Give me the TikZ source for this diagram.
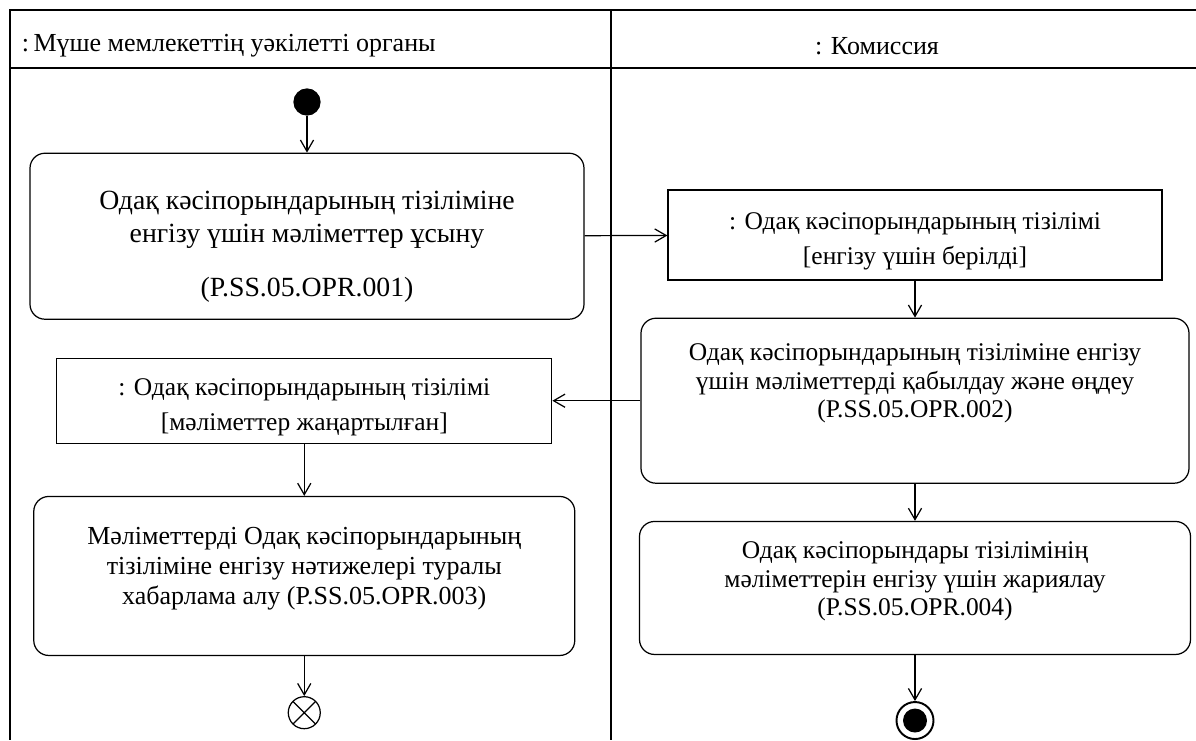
\documentclass[tikz,border=0pt]{standalone}
\usepackage{fontspec}
\setmainfont{Liberation Serif}
\usetikzlibrary{positioning,arrows.meta}
\usetikzlibrary{shapes.geometric}
\tikzstyle{act}=[draw, rounded corners=0.3cm, align=center, font=\fontsize{14.5}{16.2}\selectfont]
\tikzstyle{obj}=[draw, align=center, font=\fontsize{14.5}{19.8}\selectfont]
\tikzstyle{lane}=[font=\fontsize{14.8}{17}\selectfont]
\tikzstyle{startnode}=[draw, circle, fill=black, minimum size=0.52cm, inner sep=0pt]
\tikzstyle{flowend}=[draw, circle, minimum size=0.64cm, inner sep=0pt, path picture={\draw (path picture bounding box.north west) -- (path picture bounding box.south east) (path picture bounding box.north east) -- (path picture bounding box.south west);}]
\tikzstyle{actend}=[draw, circle, minimum size=0.74cm, inner sep=0pt, line width=1.1pt, path picture={\fill (path picture bounding box.center) circle (0.24cm);}]

\begin{document}
\begin{tikzpicture}[line width=0.7pt, >={Straight Barb[length=6.5pt,width=7.5pt]}]
	\useasboundingbox (0,0) rectangle (23.92,14.8);
	% swimlanes
	\draw[line width=1pt] (23.92,14.6) -- (0.2,14.6) -- (0.2,0);
	\draw[line width=1pt] (0.2,13.44) -- (23.92,13.44);
	\draw[line width=1pt] (12.22,14.6) -- (12.22,0);
	\node[lane, anchor=west] (L1) at (0.31,13.88) {:\,Мүше мемлекеттің уәкілетті органы};
	\node[lane] (L2) at (17.54,13.88) {: Комиссия};
	
	\node[startnode] (start) at (6.14,12.76) {};
	\node[act, minimum width=11.08cm, minimum height=3.32cm, font=\fontsize{15.8}{18.8}\selectfont] (a1) [below = 0.74cm of start] {\mbox{}\\[0.12cm] Одақ кәсіпорындарының тізіліміне\\ енгізу үшін мәліметтер ұсыну\\[0.42cm] (P.SS.05.OPR.001)};
	\node[obj, minimum width=9.88cm, minimum height=1.8cm] (o1) at (18.3,10.1) {\mbox{}\\[-0.11cm] : Одақ кәсіпорындарының тізілімі\\ {[}енгізу үшін берілді{]}};
	\node[act, minimum width=10.96cm, minimum height=3.3cm] (a2) [below = 0.74cm of o1] {Одақ кәсіпорындарының тізіліміне енгізу\\ үшін мәліметтерді қабылдау және өңдеу\\ (P.SS.05.OPR.002)\\[0.22cm] \mbox{}};
	\node[obj, minimum width=9.9cm, minimum height=1.7cm] (o2) [left = 1.76cm of a2] {\mbox{}\\[-0.11cm] : Одақ кәсіпорындарының тізілімі\\ {[}мәліметтер жаңартылған{]}};
	\node[act, minimum width=10.82cm, minimum height=3.18cm, font=\fontsize{14.8}{17}\selectfont] (a3) [below = 1.04cm of o2] {Мәліметтерді Одақ кәсіпорындарының\\ тізіліміне енгізу нәтижелері туралы\\ хабарлама алу (P.SS.05.OPR.003)\\[-0.18cm] \mbox{}};
	\node[act, minimum width=11.02cm, minimum height=2.66cm] (a4) [below = 0.74cm of a2] {Одақ кәсіпорындары тізілімінің\\ мәліметтерін енгізу үшін жариялау\\ (P.SS.05.OPR.004)\\[-0.2cm] \mbox{}};
	\node[flowend] (stop) [below = 0.8cm of a3] {};
	\node[actend] (fin) [below = 0.92cm of a4] {};
	
	\draw (start) edge[->] (a1);
	\draw (a1) edge[->] (o1);
	\draw (o1) edge[->] (a2);
	\draw (a2) edge[->] (o2);
	\draw (o2) edge[->] (a3);
	\draw (a3) edge[->] (stop);
	\draw (a2) edge[->] (a4);
	\draw (a4) edge[->] (fin);
	
\end{tikzpicture}
\end{document}
